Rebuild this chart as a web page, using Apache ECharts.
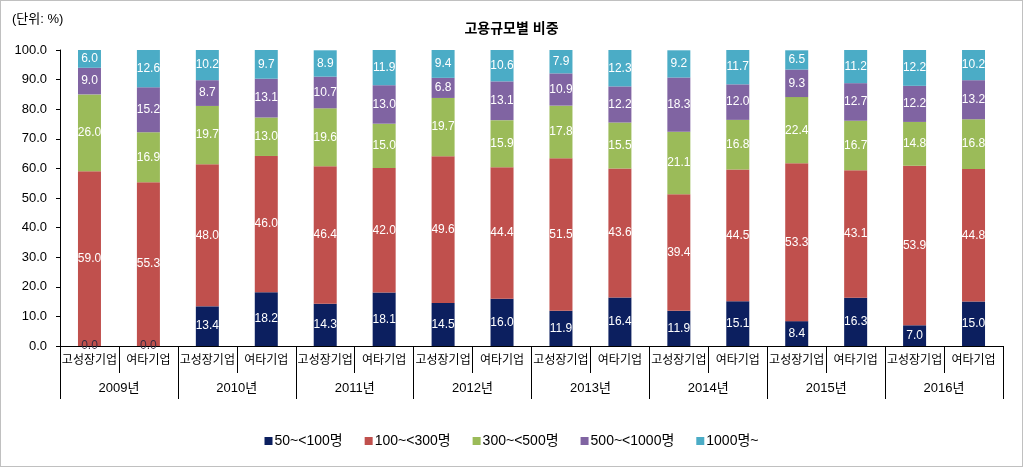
<!DOCTYPE html>
<html><head><meta charset="utf-8">
<script src="https://cdn.jsdelivr.net/npm/echarts@6/dist/echarts.min.js"></script>
<style>
html,body{margin:0;padding:0;background:#fff;}
#c{width:1021px;height:465px;border:1px solid #c0c0c0;}
</style></head><body>
<div id="c"></div>
<script>
var years = ['2009년','2010년','2011년','2012년','2013년','2014년','2015년','2016년'];
var groups = ['고성장기업','여타기업'];
var seriesNames = ['50~<100명','100~<300명','300~<500명','500~<1000명','1000명~'];
var s50 = [0.0,0.0,13.4,18.2,14.3,18.1,14.5,16.0,11.9,16.4,11.9,15.1,8.4,16.3,7.0,15.0];
var s100 = [59.0,55.3,48.0,46.0,46.4,42.0,49.6,44.4,51.5,43.6,39.4,44.5,53.3,43.1,53.9,44.8];
var s300 = [26.0,16.9,19.7,13.0,19.6,15.0,19.7,15.9,17.8,15.5,21.1,16.8,22.4,16.7,14.8,16.8];
var s500 = [9.0,15.2,8.7,13.1,10.7,13.0,6.8,13.1,10.9,12.2,18.3,12.0,9.3,12.7,12.2,13.2];
var s1000 = [6.0,12.6,10.2,9.7,8.9,11.9,9.4,10.6,7.9,12.3,9.2,11.7,6.5,11.2,12.2,10.2];
var colors = ['#0c1f5f','#c0504d','#9bbb59','#8064a2','#4bacc6'];

var categories = [];
years.forEach(function(){ groups.forEach(function(g){ categories.push(g); }); });
var all = [s50,s100,s300,s500,s1000];
var FONT = "'Liberation Sans','Noto Sans CJK KR',sans-serif";

var series = all.map(function(arr,i){
  return {
    name: seriesNames[i], type:'bar', stack:'total', barWidth:23,
    itemStyle:{color:colors[i]},
    label:{show:true, position:'inside', color:'#fff', fontSize:12, fontFamily:FONT,
      formatter:function(p){return Number(p.value).toFixed(1);}},
    data: arr.map(function(v){
      if (v === 0) return {value:v, label:{color:'#3a2a40'}};
      return v;
    })
  };
});

var chart = echarts.init(document.getElementById('c'));
chart.setOption({
  animation:false,
  color:colors,
  title:{text:'고용규모별 비중', left:'center', top:16,
    textStyle:{fontSize:14, fontWeight:'bold', color:'#000', fontFamily:FONT}},
  graphic:[{type:'text', left:11, top:12, style:{text:'(단위: %)', fill:'#000', font:'13px '+FONT}}],
  legend:{bottom:13, left:'center', itemWidth:8, itemHeight:8, itemGap:22, icon:'rect',
    textStyle:{fontSize:14, color:'#000', fontFamily:FONT, padding:[0,0,0,-3]},
    data:seriesNames},
  grid:{left:59, right:19, top:49, bottom:120},
  xAxis:[{
    type:'category', data:categories, position:'bottom',
    axisLine:{lineStyle:{color:'#000'}},
    axisTick:{show:true, interval:0, length:27, lineStyle:{color:'#000'}},
    axisLabel:{interval:0, color:'#000', fontSize:12, margin:9, fontFamily:FONT}
  },{
    type:'category', data:years, position:'bottom', gridIndex:0,
    axisLine:{show:false},
    axisTick:{show:true, interval:0, length:53, lineStyle:{color:'#000'}},
    axisLabel:{interval:0, color:'#000', fontSize:13, margin:36, fontFamily:FONT}
  }],
  yAxis:{type:'value', min:0, max:100, interval:10,
    axisLine:{show:true, lineStyle:{color:'#000'}},
    axisTick:{show:true, length:4, lineStyle:{color:'#000'}},
    splitLine:{show:false},
    axisLabel:{color:'#000', fontSize:13, margin:13, fontFamily:FONT,
      formatter:function(v){return v.toFixed(1);}}
  },
  series:series
});
</script>
</body></html>
